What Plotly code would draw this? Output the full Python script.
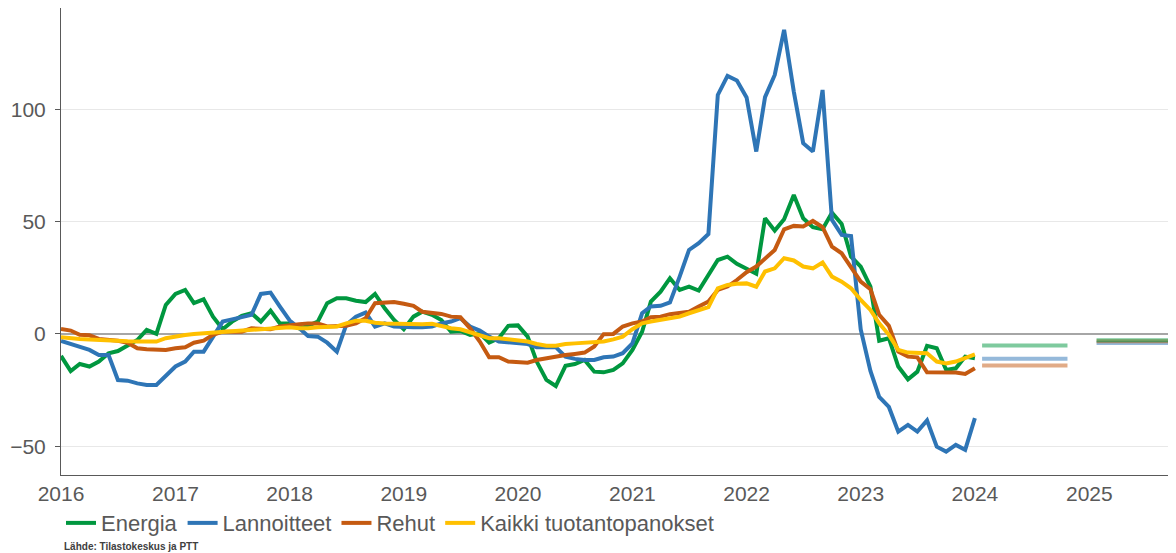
import pandas as pd
import plotly.graph_objects as go

# Monthly data, Jan 2016 - Jan 2024 (change %)
months = pd.date_range("2016-01-01", periods=97, freq="MS")

energia = [
    -9.8, -16.5, -13.4, -14.5, -12.3, -8.6, -7.6, -4.9, -2.7, 1.8, 0.0, 12.9,
    17.8, 19.6, 13.7, 15.4, 7.7, 2.1, 5.5, 8.0, 9.2, 5.5, 10.4, 4.7,
    4.7, 2.5, 3.6, 5.5, 13.7, 15.9, 15.9, 14.8, 14.2, 17.8, 11.4, 6.2,
    2.1, 7.7, 9.9, 8.5, 6.2, 1.0, 1.3, -0.4, 0.3, -3.9, -1.9, 3.6,
    3.8, -1.2, -12.3, -20.5, -23.2, -14.2, -13.4, -11.6, -16.8, -17.1, -16.0, -13.1,
    -7.1, 1.0, 14.4, 18.8, 24.8, 19.6, 21.1, 19.3, 26.3, 32.9, 34.4, 31.2,
    29.0, 26.8, 51.5, 46.0, 51.1, 61.9, 51.5, 47.5, 46.6, 54.0, 49.0, 34.4,
    30.0, 21.1, -3.0, -1.9, -14.5, -20.2, -16.8, -5.3, -6.4, -16.0, -15.3, -10.1,
    -10.8,
]
lannoitteet = [
    -3.1, -4.5, -5.9, -7.1, -9.4, -9.4, -20.5, -20.8, -22.0, -22.7, -22.7, -18.7,
    -14.5, -12.3, -7.9, -7.9, -1.2, 5.5, 6.5, 7.7, 8.5, 17.8, 18.4, 12.2,
    6.0, 2.5, -0.9, -1.2, -3.9, -7.9, 4.0, 7.7, 9.5, 3.3, 4.7, 3.3,
    3.0, 3.0, 3.0, 3.3, 4.7, 5.5, 7.0, 3.3, 1.5, -1.2, -3.4, -3.7,
    -3.9, -4.5, -5.9, -5.9, -5.9, -10.1, -11.1, -11.6, -11.6, -10.4, -10.1, -8.6,
    -4.2, 9.2, 12.2, 12.5, 14.0, 25.5, 37.4, 40.4, 44.5, 106.4, 114.9, 112.8,
    105.3, 81.2, 105.4, 115.3, 135.4, 107.9, 84.9, 81.2, 108.6, 50.8, 44.1, 43.6,
    2.0, -16.5, -28.0, -32.5, -43.5, -40.5, -43.5, -38.5, -50.2, -52.4, -49.4, -51.6,
    -37.5,
]
rehut = [
    2.2, 1.5, -0.4, -0.6, -2.2, -2.4, -3.0, -3.9, -6.4, -6.8, -6.8, -7.1,
    -6.4, -5.9, -3.9, -3.0, -0.4, 1.0, 1.0, 1.0, 2.5, 2.5, 2.1, 3.3,
    4.0, 4.3, 4.7, 4.7, 3.3, 3.6, 3.6, 4.7, 7.0, 13.7, 14.0, 14.2,
    13.4, 12.5, 9.9, 9.5, 8.9, 7.7, 7.4, 2.5, -3.4, -10.4, -10.4, -12.3,
    -12.5, -12.8, -11.6, -10.8, -10.4, -9.4, -8.9, -8.3, -5.6, -0.1, 0.0, 3.3,
    4.7, 5.5, 7.4, 7.7, 8.8, 9.5, 9.9, 12.2, 14.4, 19.6, 21.1, 24.0,
    27.5, 30.0, 33.7, 37.4, 46.6, 48.1, 47.8, 50.3, 47.5, 38.9, 35.9, 30.0,
    23.3, 19.9, 8.5, 3.6, -7.9, -10.1, -10.4, -17.1, -17.1, -16.8, -17.2, -17.8,
    -15.3,
]
kaikki = [
    -1.5, -2.0, -2.3, -2.5, -2.8, -3.0, -3.2, -3.3, -3.4, -3.3, -3.4, -1.9,
    -1.0, -0.5, 0.0, 0.3, 0.6, 1.0, 1.3, 1.6, 1.8, 2.2, 2.5, 2.8,
    3.0, 2.5, 2.5, 3.0, 3.0, 3.3, 4.7, 5.9, 5.9, 5.0, 4.7, 4.5,
    4.3, 4.3, 4.3, 4.5, 3.3, 2.5, 2.1, 0.6, -0.9, -1.9, -1.9, -2.4,
    -2.7, -3.4, -4.5, -5.3, -5.3, -4.5, -4.2, -3.9, -3.9, -3.4, -2.4, -1.2,
    2.1, 4.7, 5.5, 6.2, 7.0, 7.7, 9.2, 10.4, 11.9, 20.3, 21.8, 22.3,
    22.5, 21.0, 27.8, 29.2, 33.7, 32.7, 30.0, 29.2, 31.8, 25.5, 23.3, 20.3,
    15.1, 10.7, 4.7, -0.4, -7.1, -8.3, -8.3, -8.6, -12.3, -13.1, -12.3, -10.8,
    -9.1,
]

# Annual forecasts 2024 and 2025
forecast_years = [2024, 2025]
energia_fc = [-5.2, -2.8]
lannoitteet_fc = [-11.1, -4.0]
rehut_fc = [-14.1, -3.3]

series = [
    ("Energia", energia, energia_fc, "#00973F"),
    ("Lannoitteet", lannoitteet, lannoitteet_fc, "#2E75B6"),
    ("Rehut", rehut, rehut_fc, "#C55A11"),
    ("Kaikki tuotantopanokset", kaikki, None, "#FFC000"),
]

fig = go.Figure()

# forecast segments (lighter), drawn underneath; green ends up on top
for idx in [1, 2, 0]:
    name, vals, fc, color = series[idx]
    for yr, v in zip(forecast_years, fc):
        fig.add_trace(go.Scatter(
            x=[f"{yr}-01-24", f"{yr}-10-23"], y=[v, v],
            mode="lines", line=dict(color=color, width=4),
            opacity=0.5, showlegend=False, hoverinfo="skip",
        ))

for name, vals, fc, color in series:
    fig.add_trace(go.Scatter(
        x=months, y=vals, name=name, mode="lines",
        line=dict(color=color, width=4),
    ))

grey = "#595959"
# page body has an 8px margin, so the figure is sized 8px smaller
fig.update_layout(
    width=1168, height=545,
    margin=dict(l=53, r=0, t=0, b=78),
    plot_bgcolor="white", paper_bgcolor="white",
    font=dict(family="Arial, Liberation Sans, sans-serif", color=grey, size=21),
    showlegend=True,
    legend=dict(
        orientation="h", x=0, xanchor="left", y=-0.058, yanchor="top",
        font=dict(size=22, color=grey), itemwidth=30,
        bgcolor="rgba(0,0,0,0)",
    ),
    xaxis=dict(
        type="date",
        range=["2016-01-01", "2025-10-05"],
        dtick="M12", tick0="2016-01-01", tickformat="%Y",
        showgrid=False, showline=True, linecolor=grey, linewidth=1,
        ticks="", zeroline=False,
        tickfont=dict(size=21, color=grey),
    ),
    yaxis=dict(
        range=[-62.8, 145.1],
        tickvals=[-50, 0, 50, 100],
        ticktext=["\u221250", "0", "50", "100"],
        showgrid=True, gridcolor="#E8E8E8", gridwidth=1,
        zeroline=True, zerolinecolor="#A6A6A6", zerolinewidth=2,
        showline=True, linecolor=grey, linewidth=1,
        ticks="outside", ticklen=5, tickcolor=grey,
        ticklabelstandoff=5,
        tickfont=dict(size=21, color=grey),
    ),
    annotations=[dict(
        text="<b>Lähde: Tilastokeskus ja PTT</b>",
        xref="paper", yref="paper", x=0, y=-0.154, xshift=1,
        xanchor="left", yanchor="middle", showarrow=False,
        font=dict(family="Arial, Liberation Sans, sans-serif", size=10, color="#404040"),
    )],
)

fig.write_html("out.html")
